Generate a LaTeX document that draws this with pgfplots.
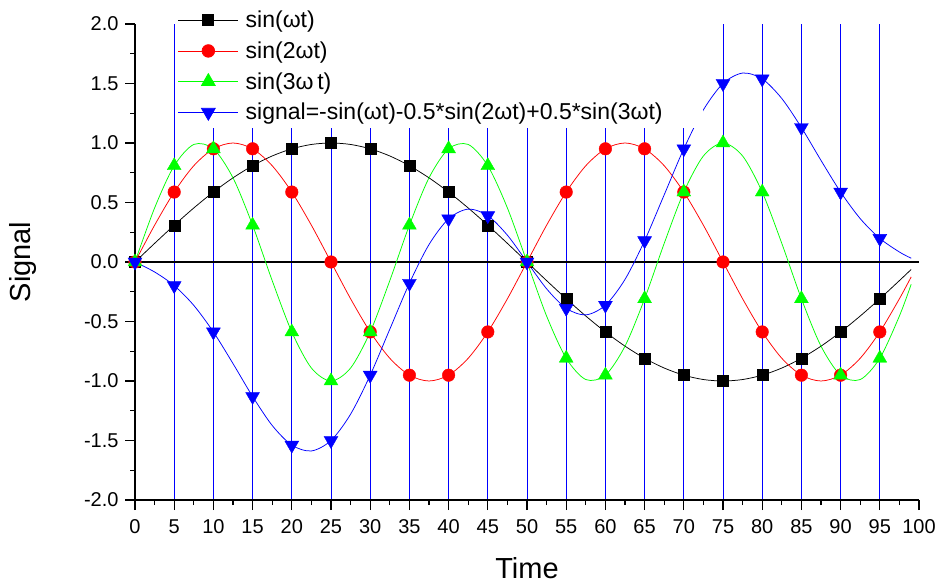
\documentclass[border=0pt]{standalone}
\usepackage{fontspec}
\setmainfont{Liberation Sans}
\usepackage{pgfplots}
\usepackage{pgfplotstable}
\pgfplotsset{compat=1.18}
\usetikzlibrary{calc}

% curve data (step 2.5, plus the last sample at t=99)
\pgfplotstableread{
t s1 s2 s3 sig
0 0 0 0 0
2.5 0.1564 0.3090 0.4540 -0.0839
5 0.3090 0.5878 0.8090 -0.1984
7.5 0.4540 0.8090 0.9877 -0.3647
10 0.5878 0.9511 0.9511 -0.5878
12.5 0.7071 1 0.7071 -0.8536
15 0.8090 0.9511 0.3090 -1.1300
17.5 0.8910 0.8090 -0.1564 -1.3737
20 0.9511 0.5878 -0.5878 -1.5389
22.5 0.9877 0.3090 -0.8910 -1.5877
25 1 0 -1 -1.5
27.5 0.9877 -0.3090 -0.8910 -1.2787
30 0.9511 -0.5878 -0.5878 -0.9511
32.5 0.8910 -0.8090 -0.1564 -0.5647
35 0.8090 -0.9511 0.3090 -0.1790
37.5 0.7071 -1 0.7071 0.1464
40 0.5878 -0.9511 0.9511 0.3632
42.5 0.4540 -0.8090 0.9877 0.4444
45 0.3090 -0.5878 0.8090 0.3894
47.5 0.1564 -0.3090 0.4540 0.2251
50 0 0 0 0
52.5 -0.1564 0.3090 -0.4540 -0.2251
55 -0.3090 0.5878 -0.8090 -0.3894
57.5 -0.4540 0.8090 -0.9877 -0.4444
60 -0.5878 0.9511 -0.9511 -0.3632
62.5 -0.7071 1 -0.7071 -0.1464
65 -0.8090 0.9511 -0.3090 0.1790
67.5 -0.8910 0.8090 0.1564 0.5647
70 -0.9511 0.5878 0.5878 0.9511
72.5 -0.9877 0.3090 0.8910 1.2787
75 -1 0 1 1.5
77.5 -0.9877 -0.3090 0.8910 1.5877
80 -0.9511 -0.5878 0.5878 1.5389
82.5 -0.8910 -0.8090 0.1564 1.3737
85 -0.8090 -0.9511 -0.3090 1.1300
87.5 -0.7071 -1 -0.7071 0.8536
90 -0.5878 -0.9511 -0.9511 0.5878
92.5 -0.4540 -0.8090 -0.9877 0.3647
95 -0.3090 -0.5878 -0.8090 0.1984
97.5 -0.1564 -0.3090 -0.4540 0.0839
99 -0.0628 -0.1253 -0.1874 0.0318
}\dense

% marked points (every 5)
\pgfplotstableread{
t s1 s2 s3 sig
0 0 0 0 0
5 0.3090 0.5878 0.8090 -0.1984
10 0.5878 0.9511 0.9511 -0.5878
15 0.8090 0.9511 0.3090 -1.1300
20 0.9511 0.5878 -0.5878 -1.5389
25 1 0 -1 -1.5
30 0.9511 -0.5878 -0.5878 -0.9511
35 0.8090 -0.9511 0.3090 -0.1790
40 0.5878 -0.9511 0.9511 0.3632
45 0.3090 -0.5878 0.8090 0.3894
50 0 0 0 0
55 -0.3090 0.5878 -0.8090 -0.3894
60 -0.5878 0.9511 -0.9511 -0.3632
65 -0.8090 0.9511 -0.3090 0.1790
70 -0.9511 0.5878 0.5878 0.9511
75 -1 0 1 1.5
80 -0.9511 -0.5878 0.5878 1.5389
85 -0.8090 -0.9511 -0.3090 1.1300
90 -0.5878 -0.9511 -0.9511 0.5878
95 -0.3090 -0.5878 -0.8090 0.1984
}\marks

\definecolor{cred}{RGB}{255,0,0}
\definecolor{cgreen}{RGB}{0,255,0}
\definecolor{cblue}{RGB}{0,0,255}

\begin{document}
\begin{tikzpicture}
\begin{axis}[
  set layers=standard,
  scale only axis, width=784bp, height=476bp,
  xmin=0, xmax=100, ymin=-2, ymax=2,
  axis x line*=bottom, axis y line*=left,
  axis line style={line width=1.5bp},
  xtick={0,5,...,100}, minor x tick num=1,
  ytick={-2,-1.5,-1,-0.5,0,0.5,1,1.5,2}, minor y tick num=1,
  extra x ticks={5,10,...,95}, extra x tick labels={},
  extra x tick style={grid=major, major tick length=0bp, minor tick length=0bp},
  major grid style={cblue, line width=1bp},
  extra y ticks={0}, extra y tick labels={},
  extra y tick style={grid=major, major grid style={black, line width=1.5bp}, major tick length=0bp, minor tick length=0bp},
  tick align=outside,
  major tick length=10bp, minor tick length=5bp,
  every tick/.style={black, line width=1.3bp},
  tick label style={font=\fontsize{20bp}{24bp}\selectfont},
  xticklabel style={yshift=-6bp},
  yticklabel style={xshift=-3bp},
  /pgf/number format/assume math mode=true,
  yticklabel={\pgfmathprintnumber[fixed,fixed zerofill,precision=1]{\tick}},
  xlabel={Time}, ylabel={Signal},
  label style={font=\fontsize{29bp}{34bp}\selectfont},
  xlabel style={at={(axis description cs:0.5,-0.143)}, anchor=center},
  ylabel style={at={(axis description cs:-0.143,0.5)}, anchor=center},
  legend style={at={(axis description cs:0.052,1.042)}, anchor=north west,
    draw=none, fill=white, font=\fontsize{23bp}{27bp}\selectfont,
    inner xsep=2bp, inner ysep=4bp, row sep=6.5bp, nodes={inner sep=3bp}},
  legend cell align=left,
  legend image code/.code={\draw[mark repeat=2,mark phase=2] plot coordinates {(0bp,0bp) (30bp,0bp) (60bp,0bp)};},
]
\addplot[black, line width=0.75bp, smooth, forget plot] table[x=t,y=s1]{\dense};
\addplot[black, only marks, mark=square*, mark size=5.5bp, forget plot] table[x=t,y=s1]{\marks};
\addplot[cred, line width=0.75bp, smooth, forget plot] table[x=t,y=s2]{\dense};
\addplot[cred, only marks, mark=*, mark size=6.3bp, forget plot] table[x=t,y=s2]{\marks};
\addplot[cgreen, line width=0.75bp, smooth, forget plot] table[x=t,y=s3]{\dense};
\addplot[cgreen, only marks, mark=triangle*, mark size=8bp, forget plot] table[x=t,y=s3]{\marks};
\addplot[cblue, line width=0.75bp, smooth, forget plot] table[x=t,y=sig]{\dense};
\addplot[cblue, only marks, mark=triangle*, mark size=8bp, every mark/.append style={rotate=180}, forget plot] table[x=t,y=sig]{\marks};

\addlegendimage{black, line width=0.75bp, mark=square*, mark size=5.5bp}
\addlegendentry{\hspace{4bp}sin(ωt)}
\addlegendimage{cred, line width=0.75bp, mark=*, mark size=6.3bp}
\addlegendentry{\hspace{4bp}sin(2ωt)}
\addlegendimage{cgreen, line width=0.75bp, mark=triangle*, mark size=8bp}
\addlegendentry{\hspace{4bp}sin(3ω\,t)}
\addlegendimage{cblue, line width=0.75bp, mark=triangle*, mark size=8bp, every mark/.append style={rotate=180}}
\addlegendentry{\hspace{4bp}signal=-sin(ωt)-0.5*sin(2ωt)+0.5*sin(3ωt)\hspace*{35bp}\rule[-9bp]{0pt}{1pt}}
\end{axis}
\pgfresetboundingbox
\path[use as bounding box] ($(current axis.south west)+(-135bp,-83bp)$) rectangle ($(current axis.north east)+(18bp,24bp)$);
\end{tikzpicture}
\end{document}
